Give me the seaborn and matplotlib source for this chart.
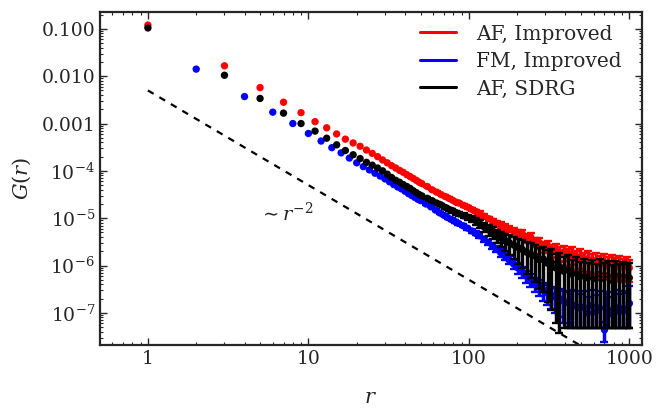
import numpy as np
import pandas as pd
import matplotlib
matplotlib.use("Agg")
import matplotlib.pyplot as plt
import seaborn as sns
from matplotlib.lines import Line2D
from matplotlib.ticker import FixedLocator, FixedFormatter, LogLocator, NullFormatter

# distances: AF series at odd r, FM series at even r
r_af = [1, 3, 5, 7, 9, 11, 13, 15, 17, 19, 21, 23, 25, 27, 29, 31, 33, 35, 37, 39,
        41, 43, 45, 47, 49, 51, 55, 59, 63, 67, 71, 75, 79, 83, 87, 93, 99, 105, 111,
        117, 125, 133, 141, 149, 159, 169, 179, 191, 203, 215, 229, 243, 259, 275, 291,
        309, 327, 347, 367, 389, 413, 437, 463, 491, 519, 551, 583, 617, 653, 691, 731,
        775, 819, 867, 917, 971, 999]
r_fm = [2, 4, 6, 8, 10, 12, 14, 16, 18, 20, 22, 24, 26, 28, 30, 32, 34, 36, 38, 40,
        42, 44, 46, 48, 50, 54, 58, 62, 66, 70, 74, 78, 82, 86, 92, 98, 104, 110, 116,
        124, 132, 140, 148, 158, 168, 178, 190, 202, 214, 228, 242, 258, 274, 290, 308,
        326, 346, 366, 388, 412, 436, 462, 490, 518, 550, 582, 616, 652, 700, 730, 774,
        818, 866, 916, 970, 1000]

# log10 G(r)
logg_af_imp = [-0.92, -1.78, -2.24, -2.55, -2.77, -2.96, -3.09, -3.22, -3.33, -3.41,
               -3.48, -3.56, -3.63, -3.70, -3.77, -3.83, -3.89, -3.94, -3.99, -4.03,
               -4.08, -4.12, -4.16, -4.20, -4.24, -4.27, -4.33, -4.40, -4.45, -4.50,
               -4.54, -4.58, -4.62, -4.66, -4.68, -4.73, -4.77, -4.82, -4.86, -4.90,
               -4.96, -5.01, -5.06, -5.11, -5.14, -5.19, -5.23, -5.27, -5.31, -5.33,
               -5.42, -5.40, -5.50, -5.52, -5.60, -5.58, -5.68, -5.66, -5.74, -5.72,
               -5.80, -5.76, -5.85, -5.82, -5.90, -5.86, -5.93, -5.90, -5.97, -5.92,
               -6.00, -5.96, -6.02, -5.98, -6.04, -5.99, -6.05]
logg_fm_imp = [-1.85, -2.43, -2.76, -3.00, -3.21, -3.37, -3.51, -3.62, -3.73, -3.83,
               -3.91, -3.98, -4.05, -4.11, -4.17, -4.23, -4.29, -4.34, -4.38, -4.43,
               -4.48, -4.52, -4.56, -4.60, -4.63, -4.70, -4.76, -4.83, -4.89, -4.94,
               -4.99, -5.03, -5.07, -5.11, -5.16, -5.21, -5.27, -5.32, -5.37, -5.44,
               -5.51, -5.58, -5.65, -5.73, -5.80, -5.88, -5.97, -6.05, -6.13, -6.22,
               -6.30, -6.38, -6.45, -6.52, -6.58, -6.62, -6.66, -6.70, -6.75, -6.78,
               -6.82, -6.85, -6.90, -6.88, -7.00, -6.85, -6.98, -6.90, -7.36, -6.92,
               -7.02, -6.88, -6.97, -6.90, -6.95, -6.80]
logg_af_sdrg = [-0.98, -1.98, -2.47, -2.78, -3.00, -3.16, -3.31, -3.45, -3.57, -3.66,
                -3.74, -3.82, -3.88, -3.94, -4.00, -4.07, -4.14, -4.20, -4.24, -4.29,
                -4.33, -4.37, -4.42, -4.46, -4.50, -4.53, -4.58, -4.63, -4.68, -4.72,
                -4.77, -4.81, -4.84, -4.88, -4.91, -4.95, -4.98, -5.01, -5.06, -5.12,
                -5.19, -5.25, -5.30, -5.36, -5.42, -5.48, -5.52, -5.57, -5.62, -5.66,
                -5.72, -5.76, -5.80, -5.88, -5.86, -5.95, -5.93, -6.05, -6.02, -6.12,
                -6.08, -6.18, -6.14, -6.24, -6.18, -6.26, -6.20, -6.28, -6.19, -6.27,
                -6.22, -6.31, -6.22, -6.29, -6.24, -6.30, -6.26]

# relative error bars (>= 1 means the bar reaches the plot floor)
rel_af_imp = [0] * 26 + [0.03, 0.03, 0.04, 0.04, 0.05, 0.05, 0.06, 0.06, 0.07, 0.07,
              0.08, 0.08, 0.09, 0.10, 0.10, 0.11, 0.12, 0.12, 0.13, 0.14, 0.15, 0.16,
              0.17, 0.18, 0.20, 0.21, 0.23, 0.25, 0.26, 0.28, 0.30, 0.32, 0.34, 0.36,
              0.38, 0.40, 0.42, 0.44, 0.45, 0.46, 0.46, 0.47, 0.48, 0.48, 0.49, 0.50,
              0.50, 0.50, 0.50, 0.50, 0.50]
rel_fm_imp = [0] * 25 + [0.03, 0.03, 0.04, 0.04, 0.05, 0.05, 0.06, 0.06, 0.07, 0.08,
              0.08, 0.09, 0.10, 0.11, 0.12, 0.13, 0.14, 0.15, 0.17, 0.18, 0.20, 0.22,
              0.24, 0.26, 0.28, 0.30, 0.33, 0.36, 0.40, 0.45, 0.50, 0.55, 0.60, 0.66,
              0.70, 1.0, 1.0, 1.0, 1.2, 1.2, 1.2, 1.3, 1.3, 0.45, 1.3, 1.3, 1.3, 1.3,
              1.3, 1.3, 1.3]
rel_af_sdrg = [0] * 26 + [0.04, 0.05, 0.05, 0.06, 0.07, 0.08, 0.09, 0.10, 0.11, 0.12,
               0.13, 0.15, 0.17, 0.19, 0.22, 0.25, 0.28, 0.31, 0.35, 0.40, 0.45, 0.50,
               0.55, 0.60, 0.65, 0.68, 0.72, 0.76, 0.80, 0.85, 0.90, 0.93, 0.96, 1.0,
               1.0, 1.0, 1.05, 1.05, 1.1, 1.1, 1.1, 1.1, 1.1, 1.1, 1.1, 1.1, 1.1, 1.1,
               1.1, 1.1, 1.1]

floor = 4.8e-8
guide_r = [1, 1000]
guide_g = [5e-3, 5e-9]

labels = ["AF, Improved", "FM, Improved", "AF, SDRG"]
colors = ["#ff0000", "#0000ff", "#000000"]

series = []
for lab, r, lg, rel in [(labels[0], r_af, logg_af_imp, rel_af_imp),
                        (labels[1], r_fm, logg_fm_imp, rel_fm_imp),
                        (labels[2], r_af, logg_af_sdrg, rel_af_sdrg)]:
    d = pd.DataFrame({"r": r, "G": 10.0 ** np.array(lg), "rel": rel})
    d["lo"] = np.where(d["rel"] < 1, d["G"] * (1 - d["rel"]), floor)
    d["hi"] = d["G"] * (1 + d["rel"])
    d["series"] = lab
    series.append(d)

sns.set_style("ticks")
plt.rcParams["font.family"] = ["DejaVu Serif"]
plt.rcParams["mathtext.fontset"] = "dejavuserif"
plt.rcParams["font.size"] = 13.5

fig = plt.figure(figsize=(6.57, 4.09), dpi=100)
ax = fig.add_axes([0.152, 0.156, 0.825, 0.815])

for d, c in zip(series, colors):
    e = d[d["rel"] > 0]
    ax.errorbar(e["r"], e["G"], yerr=[e["G"] - e["lo"], e["hi"] - e["G"]],
                fmt="none", ecolor=c, elinewidth=2.5, capsize=2.8, capthick=1.7)
    sns.scatterplot(data=d, x="r", y="G", color=c, s=28, marker="o",
                    edgecolor="none", ax=ax, legend=False)

ax.plot(guide_r, guide_g, color="black", lw=1.6, ls=(0, (3, 3)))
ax.text(7.3, 1.25e-5, r"$\sim r^{-2}$", ha="center", va="center", fontsize=14)

ax.set_xscale("log")
ax.set_yscale("log")
ax.set_xlim(0.502, 1197)
ax.set_ylim(2.07e-8, 0.229)

ax.xaxis.set_major_locator(FixedLocator([1, 10, 100, 1000]))
ax.xaxis.set_major_formatter(FixedFormatter(["1", "10", "100", "1000"]))
ax.xaxis.set_minor_locator(LogLocator(base=10, subs=np.arange(2, 10), numticks=20))
ax.xaxis.set_minor_formatter(NullFormatter())
yt = [1e-1, 1e-2, 1e-3, 1e-4, 1e-5, 1e-6, 1e-7]
ax.yaxis.set_major_locator(FixedLocator(yt))
ax.yaxis.set_major_formatter(FixedFormatter(["0.100", "0.010", "0.001", r"$10^{-4}$",
                                             r"$10^{-5}$", r"$10^{-6}$", r"$10^{-7}$"]))
ax.yaxis.set_minor_locator(LogLocator(base=10, subs=np.arange(2, 10), numticks=20))
ax.yaxis.set_minor_formatter(NullFormatter())

ax.tick_params(which="both", direction="in", top=True, right=True, labelsize=13.5)
ax.tick_params(which="major", length=5, width=1)
ax.tick_params(which="minor", length=2.5, width=0.8)
for s in ax.spines.values():
    s.set_linewidth(1.6)

ax.set_xlabel(r"$r$", fontsize=15, labelpad=14)
ax.set_ylabel(r"$G(r)$", fontsize=15, labelpad=6)

handles = [Line2D([], [], color=c, lw=2.2) for c in colors]
ax.legend(handles, labels, loc="upper left", bbox_to_anchor=(0.59, 0.962),
          frameon=False, borderpad=0, borderaxespad=0, handlelength=1.8,
          handletextpad=1.0, labelspacing=0.42, fontsize=14.5)

fig.savefig("out.png", dpi=100)
